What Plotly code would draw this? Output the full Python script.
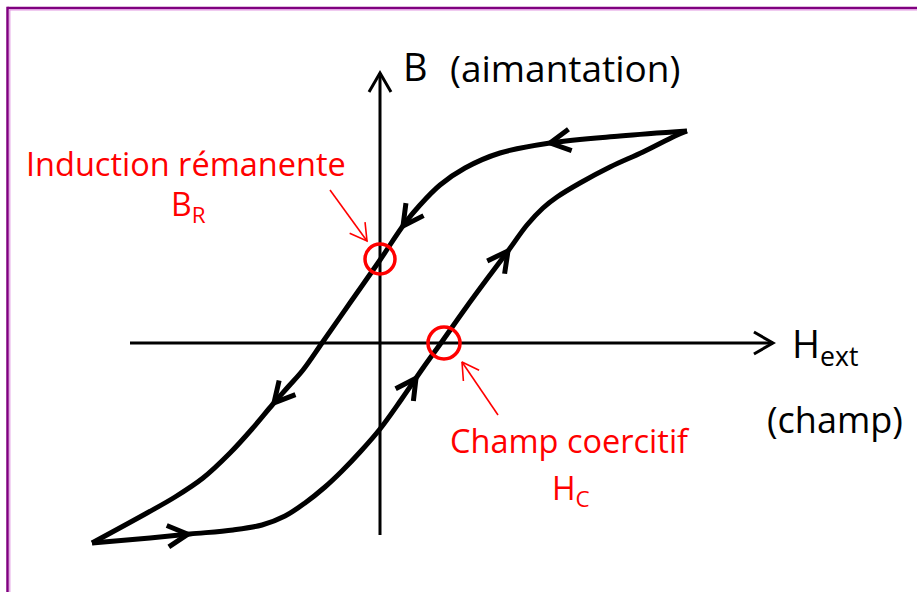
import numpy as np
import plotly.graph_objects as go

# ---- data (H = field, B = induction), units relative to the axes origin ----
desc_H = [307, 240, 170, 120, 85, 60, 40, 25, 0, -28, -58, -77, -92, -107, -128, -150, -177, -205, -233, -288]
desc_B = [212, 207, 200, 190, 175, 158, 138, 120, 83, 43, 0, -27, -44, -61, -86, -110, -135, -154, -170, -200]

asc_H = [-288, -230, -190, -147, -118, -95, -75, -55, -38, -19, 0, 21, 43, 61, 85, 110, 128, 147, 163, 177, 200, 230, 263, 295, 307]
asc_B = [-200, -195, -191, -187, -182, -173, -160, -144, -128, -108, -86, -57, -25, 0, 34, 68, 92, 118, 135, 146, 160, 176, 191, 207, 212]

desc_arrow_H = [170, 23, -106]
asc_arrow_H = [-192, 36, 128]

H_axis = [-250, 393]
B_axis = [-192, 270]

BR = (0, 84)      # remanent induction
HC = (64, 0)      # coercive field

BR_pointer = [(-50, 153), (-13, 102)]
HC_pointer = [(118, -72), (82, -19)]

X_RANGE = [-380, 537]
Y_RANGE = [-249, 343]

fig = go.Figure()


def chevron(tx, ty, dx, dy, L, ang_deg):
    n = np.hypot(dx, dy)
    bx, by = -dx / n, -dy / n
    a = np.radians(ang_deg)
    xs, ys = [], []
    for s in (a, -a):
        c, si = np.cos(s), np.sin(s)
        wx, wy = bx * c - by * si, bx * si + by * c
        xs.append(tx + L * wx)
        ys.append(ty + L * wy)
    return [xs[0], tx, xs[1]], [ys[0], ty, ys[1]]


def add_line(x, y, color, width, shape="linear"):
    fig.add_trace(go.Scatter(x=x, y=y, mode="lines", hoverinfo="skip",
                             line=dict(color=color, width=width, shape=shape)))


# axes
add_line(H_axis, [0, 0], "black", 3)
add_line([0, 0], B_axis, "black", 3)
cx, cy = chevron(H_axis[1], 0, 1, 0, 22, 30)
add_line(cx, cy, "black", 3)
cx, cy = chevron(0, B_axis[1], 0, 1, 22, 30)
add_line(cx, cy, "black", 3)

# hysteresis branches
add_line(desc_H, desc_B, "black", 5, "spline")
add_line(asc_H, asc_B, "black", 5, "spline")

# direction arrows on branches
dH = np.array(desc_H[::-1], float)
dB = np.array(desc_B[::-1], float)
for h in desc_arrow_H:
    b = np.interp(h, dH, dB)
    slope = (np.interp(h + 4, dH, dB) - np.interp(h - 4, dH, dB)) / 8
    cx, cy = chevron(h, b, -1, -slope, 23, 28)
    add_line(cx, cy, "black", 5)
aH = np.array(asc_H, float)
aB = np.array(asc_B, float)
for h in asc_arrow_H:
    b = np.interp(h, aH, aB)
    slope = (np.interp(h + 4, aH, aB) - np.interp(h - 4, aH, aB)) / 8
    cx, cy = chevron(h, b, 1, slope, 23, 28)
    add_line(cx, cy, "black", 5)

# red pointers
for (t0, t1) in (BR_pointer, HC_pointer):
    add_line([t0[0], t1[0]], [t0[1], t1[1]], "red", 1.6)
    cx, cy = chevron(t1[0], t1[1], t1[0] - t0[0], t1[1] - t0[1], 19, 30)
    add_line(cx, cy, "red", 1.6)

shapes = []
for (px, py, r) in ((BR[0], BR[1], 15), (HC[0], HC[1], 16)):
    shapes.append(dict(type="circle", xref="x", yref="y", x0=px - r, x1=px + r,
                       y0=py - r, y1=py + r, line=dict(color="red", width=3.5)))

# frame (purple border)
W, Hh = 917, 592
def px2paper_x(p):
    return p / W
def px2paper_y(p):
    return 1 - p / Hh
shapes += [
    dict(type="line", xref="paper", yref="paper", x0=px2paper_x(7.5), x1=1.1,
         y0=px2paper_y(8), y1=px2paper_y(8), line=dict(color="rgb(128,0,128)", width=2.5)),
    dict(type="line", xref="paper", yref="paper", x0=px2paper_x(7.5), x1=px2paper_x(7.5),
         y0=px2paper_y(6.8), y1=-0.1, line=dict(color="rgb(128,0,128)", width=2.5)),
    dict(type="line", xref="paper", yref="paper", x0=px2paper_x(9.8), x1=1.1,
         y0=px2paper_y(9.8), y1=px2paper_y(9.8), line=dict(color="rgb(225,150,225)", width=1.2)),
    dict(type="line", xref="paper", yref="paper", x0=px2paper_x(9.8), x1=px2paper_x(9.8),
         y0=px2paper_y(9.8), y1=-0.1, line=dict(color="rgb(225,150,225)", width=1.2)),
]

FONT = "Open Sans"
def ann(text, x, y, size, color, xanchor, yanchor="top"):
    return dict(text=text, x=x, y=y, xref="x", yref="y", showarrow=False,
                xanchor=xanchor, yanchor=yanchor,
                font=dict(family=FONT, size=size, color=color))

annotations = [
    ann("B", 21, 305, 38, "black", "left"),
    ann("(aimantation)", 68, 303, 37, "black", "left"),
    ann("H<sub>ext</sub>", 410, 28, 38, "black", "left"),
    ann("(champ)", 455, -50, 36, "black", "center"),
    ann("Induction rémanente", -194, 204, 32.5, "red", "center"),
    ann("B<sub>R</sub>", -192, 163, 32, "red", "center"),
    ann("Champ coercitif", 190, -73, 32.5, "red", "center"),
    ann("H<sub>C</sub>", 191, -121, 32, "red", "center"),
]

fig.update_layout(
    width=W, height=Hh, margin=dict(l=0, r=0, t=0, b=0),
    paper_bgcolor="white", plot_bgcolor="white", showlegend=False,
    xaxis=dict(range=X_RANGE, visible=False, fixedrange=True),
    yaxis=dict(range=Y_RANGE, visible=False, fixedrange=True),
    shapes=shapes, annotations=annotations, hovermode=False,
)

fig.write_html("out.html", config={"displayModeBar": False},
               post_script="document.body.style.margin='0px';")
